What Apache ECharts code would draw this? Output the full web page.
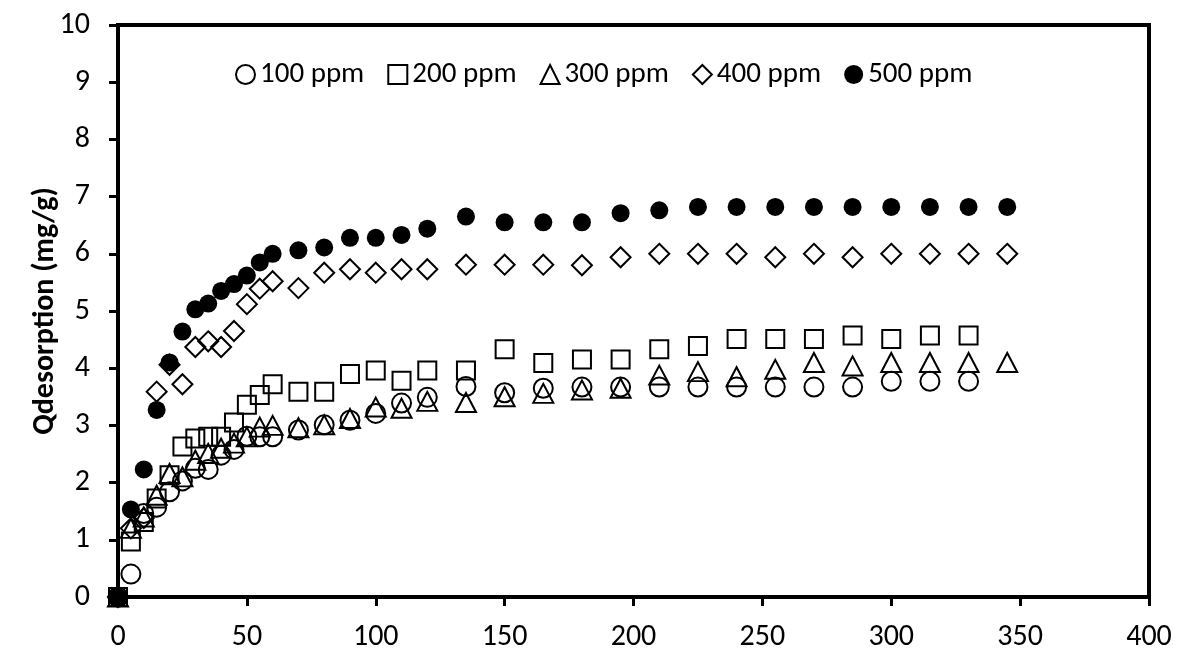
<!DOCTYPE html>
<html>
<head>
<meta charset="utf-8">
<script src="https://cdn.jsdelivr.net/npm/echarts@6/dist/echarts.min.js"></script>
<style>html,body{margin:0;padding:0;background:#fff}#c{width:1177px;height:656px}</style>
</head>
<body>
<div id="c"></div>
<script>
const time = [0,5,10,15,20,25,30,35,40,45,50,55,60,70,80,90,100,110,120,135,150,165,180,195,210,225,240,255,270,285,300,315,330,345];
const seriesNames = ['100 ppm','200 ppm','300 ppm','400 ppm','500 ppm'];
const q100 = [0,0.40,1.46,1.57,1.84,2.03,2.25,2.23,2.48,2.58,2.81,2.80,2.80,2.92,3.01,3.09,3.21,3.39,3.49,3.68,3.57,3.65,3.67,3.67,3.67,3.67,3.67,3.67,3.67,3.67,3.77,3.77,3.77];
const q200 = [0,0.97,1.31,1.72,2.13,2.63,2.77,2.80,2.80,3.05,3.36,3.53,3.72,3.59,3.59,3.90,3.96,3.78,3.96,3.96,4.33,4.09,4.15,4.15,4.33,4.39,4.51,4.51,4.51,4.57,4.51,4.57,4.57];
const q300 = [0,1.20,1.40,1.78,2.16,2.10,2.39,2.51,2.60,2.69,2.80,2.97,3.00,2.96,3.01,3.12,3.32,3.30,3.42,3.40,3.50,3.56,3.62,3.65,3.88,3.94,3.85,3.98,4.10,4.04,4.10,4.10,4.10,4.10];
const q400 = [0,1.20,1.38,3.59,4.06,3.72,4.37,4.47,4.37,4.65,5.12,5.39,5.52,5.40,5.67,5.73,5.67,5.73,5.73,5.81,5.81,5.81,5.80,5.94,6.00,6.00,6.00,5.94,6.00,5.94,6.00,6.00,6.00,6.00];
const q500 = [0,1.53,2.23,3.27,4.10,4.64,5.03,5.13,5.35,5.47,5.62,5.85,6.00,6.06,6.11,6.28,6.28,6.33,6.44,6.65,6.55,6.55,6.55,6.71,6.76,6.82,6.82,6.82,6.82,6.82,6.82,6.82,6.82,6.82];
const xTicks = [0,50,100,150,200,250,300,350,400];
const yTicks = [0,1,2,3,4,5,6,7,8,9,10];

function pairs(ys){ return ys.map((v,i)=>[time[i], v]); }
const FONT = 'Carlito, Lato, "Open Sans", sans-serif';
const hollow = {color:'rgba(255,255,255,0)', borderColor:'#000', borderWidth:2, opacity:1};
const symbols = [
  {symbol:'circle', size:19, style:hollow},
  {symbol:'rect', size:18, style:hollow},
  {symbol:'triangle', size:[20,19], style:hollow},
  {symbol:'diamond', size:[20,20], style:hollow},
  {symbol:'circle', size:18, style:{color:'#000', borderColor:'#000', borderWidth:0, opacity:1}}
];
const data = [q100,q200,q300,q400,q500];

const chart = echarts.init(document.getElementById('c'), null, {renderer:'canvas'});
chart.setOption({
  animation:false,
  backgroundColor:'#fff',
  grid:{left:118, right:28, top:25, bottom:59, show:true, borderColor:'#000', borderWidth:4, backgroundColor:'transparent'},
  legend:{
    left:230, top:55, itemGap:23, itemWidth:19, itemHeight:19,
    textStyle:{fontFamily:FONT, fontSize:29, color:'#000'},
    data: seriesNames
  },
  xAxis:{
    type:'value', min:xTicks[0], max:xTicks[xTicks.length-1], interval:50,
    axisLine:{show:true, lineStyle:{color:'#000', width:4}},
    axisTick:{show:true, inside:false, length:9, lineStyle:{color:'#000', width:3}},
    splitLine:{show:false},
    axisLabel:{fontFamily:FONT, fontSize:30, color:'#000', margin:25}
  },
  yAxis:{
    type:'value', min:yTicks[0], max:yTicks[yTicks.length-1], interval:1,
    name:'Qdesorption (mg/g)', nameLocation:'middle', nameGap:58, nameMoveOverlap:false,
    nameTextStyle:{fontFamily:FONT, fontSize:30, fontWeight:'bold', color:'#000'},
    axisLine:{show:true, lineStyle:{color:'#000', width:4}},
    axisTick:{show:true, inside:false, length:9, lineStyle:{color:'#000', width:3}},
    splitLine:{show:false},
    axisLabel:{fontFamily:FONT, fontSize:30, color:'#000', margin:28}
  },
  series: seriesNames.map((n,i)=>({
    name:n, type:'scatter', data:pairs(data[i]),
    symbol:symbols[i].symbol, symbolSize:symbols[i].size,
    itemStyle:symbols[i].style, z: 2+i
  }))
});
</script>
</body>
</html>
